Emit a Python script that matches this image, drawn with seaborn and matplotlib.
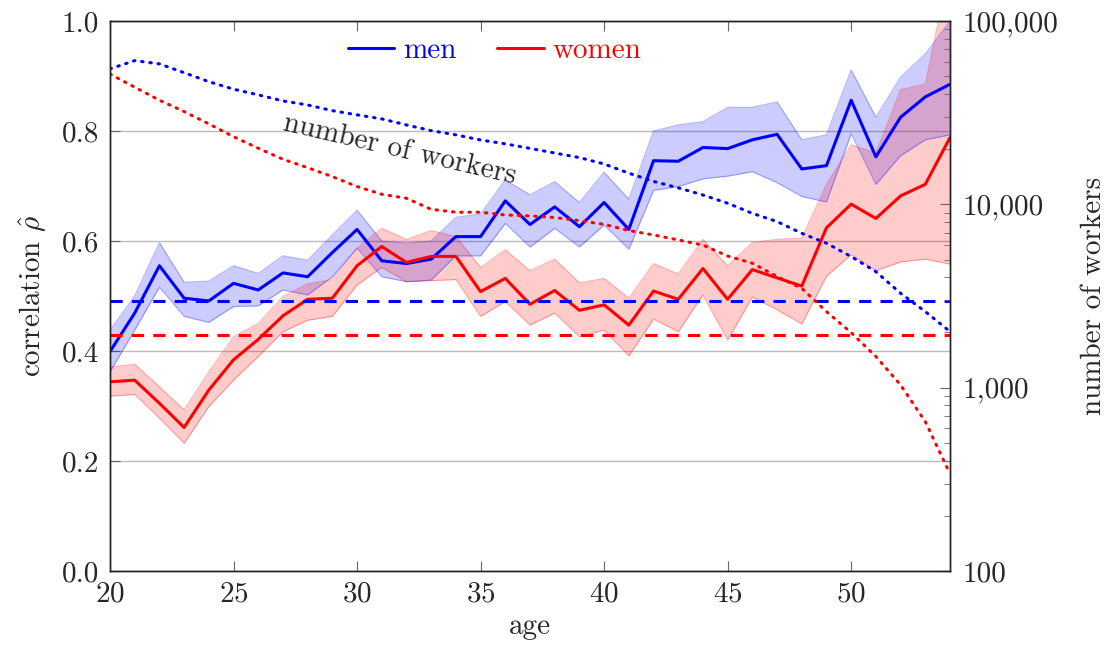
import numpy as np
import pandas as pd
import matplotlib
matplotlib.use("Agg")
import matplotlib.pyplot as plt
import matplotlib.ticker as mticker
import seaborn as sns

ages = list(range(20, 55))

men_rho = [0.399, 0.469, 0.555, 0.496, 0.491, 0.523, 0.511, 0.542, 0.535, 0.579,
           0.621, 0.564, 0.559, 0.567, 0.608, 0.608, 0.673, 0.630, 0.662, 0.626,
           0.670, 0.621, 0.746, 0.745, 0.770, 0.768, 0.784, 0.794, 0.731, 0.737,
           0.856, 0.753, 0.825, 0.862, 0.885]
men_hi = [0.438, 0.500, 0.597, 0.525, 0.527, 0.555, 0.541, 0.573, 0.565, 0.611,
          0.656, 0.600, 0.596, 0.600, 0.643, 0.649, 0.711, 0.684, 0.708, 0.670,
          0.725, 0.676, 0.800, 0.811, 0.817, 0.843, 0.843, 0.853, 0.784, 0.793,
          0.911, 0.825, 0.898, 0.940, 1.000]
men_lo = [0.362, 0.438, 0.516, 0.463, 0.452, 0.481, 0.482, 0.511, 0.502, 0.535,
          0.587, 0.535, 0.526, 0.529, 0.573, 0.573, 0.632, 0.589, 0.623, 0.589,
          0.629, 0.585, 0.692, 0.699, 0.713, 0.718, 0.726, 0.706, 0.681, 0.671,
          0.795, 0.703, 0.755, 0.784, 0.793]

women_rho = [0.344, 0.347, 0.305, 0.261, 0.329, 0.384, 0.421, 0.464, 0.494, 0.496,
             0.555, 0.590, 0.561, 0.572, 0.572, 0.508, 0.532, 0.485, 0.510, 0.474,
             0.484, 0.447, 0.509, 0.494, 0.550, 0.494, 0.548, 0.533, 0.518, 0.624,
             0.667, 0.641, 0.682, 0.703, 0.788]
women_hi = [0.371, 0.376, 0.335, 0.293, 0.362, 0.426, 0.450, 0.499, 0.522, 0.530,
            0.587, 0.623, 0.603, 0.619, 0.608, 0.552, 0.584, 0.546, 0.567, 0.524,
            0.532, 0.496, 0.559, 0.540, 0.603, 0.555, 0.597, 0.603, 0.605, 0.703,
            0.775, 0.760, 0.875, 0.885, 1.100]
women_lo = [0.318, 0.321, 0.278, 0.232, 0.299, 0.347, 0.390, 0.435, 0.456, 0.463,
            0.520, 0.552, 0.526, 0.528, 0.530, 0.463, 0.490, 0.447, 0.469, 0.426,
            0.438, 0.391, 0.458, 0.435, 0.502, 0.420, 0.498, 0.475, 0.449, 0.536,
            0.575, 0.546, 0.562, 0.567, 0.558]

men_avg = 0.491
women_avg = 0.429

# number of workers (log10 values)
men_workers_log = [4.739, 4.784, 4.766, 4.718, 4.669, 4.628, 4.597, 4.564, 4.542, 4.511,
                   4.488, 4.466, 4.433, 4.402, 4.379, 4.351, 4.330, 4.305, 4.280, 4.255,
                   4.220, 4.170, 4.125, 4.090, 4.051, 4.006, 3.951, 3.906, 3.842, 3.788,
                   3.715, 3.633, 3.515, 3.415, 3.306]
women_workers_log = [4.711, 4.639, 4.568, 4.506, 4.439, 4.369, 4.306, 4.246, 4.200, 4.151,
                     4.097, 4.055, 4.033, 3.973, 3.957, 3.957, 3.942, 3.937, 3.928, 3.911,
                     3.891, 3.857, 3.833, 3.806, 3.778, 3.718, 3.679, 3.606, 3.542, 3.415,
                     3.300, 3.170, 3.015, 2.815, 2.530]
men_workers = [10 ** v for v in men_workers_log]
women_workers = [10 ** v for v in women_workers_log]

sns.set_style("white")
plt.rcParams["font.family"] = ["cmr10", "DejaVu Serif"]
plt.rcParams["mathtext.fontset"] = "cm"
plt.rcParams["axes.formatter.use_mathtext"] = True
plt.rcParams["axes.unicode_minus"] = False

FS = 21

df = pd.DataFrame({"age": ages, "men": men_rho, "women": women_rho,
                   "men_n": men_workers, "women_n": women_workers})

fig = plt.figure(figsize=(11.17, 6.5), dpi=100)
ax = fig.add_axes([110 / 1117, 79 / 650, 840 / 1117, 550 / 650])

BLUE = "#0000ff"
RED = "#ff0000"

ax.fill_between(ages, men_lo, men_hi, color=BLUE, alpha=0.2, lw=0)
ax.plot(ages, men_lo, color=BLUE, alpha=0.3, lw=0.8)
ax.plot(ages, men_hi, color=BLUE, alpha=0.3, lw=0.8)
ax.fill_between(ages, women_lo, women_hi, color=RED, alpha=0.2, lw=0)
ax.plot(ages, women_lo, color=RED, alpha=0.3, lw=0.8)
ax.plot(ages, women_hi, color=RED, alpha=0.3, lw=0.8)

sns.lineplot(data=df, x="age", y="men", ax=ax, color=BLUE, lw=2.2, label="men")
sns.lineplot(data=df, x="age", y="women", ax=ax, color=RED, lw=2.2, label="women")
ax.axhline(men_avg, color=BLUE, lw=2.2, ls=(0, (4, 3)))
ax.axhline(women_avg, color=RED, lw=2.2, ls=(0, (4, 3)))

ax.set_xlim(20, 54)
ax.set_ylim(0, 1)
ax.set_xticks([20, 25, 30, 35, 40, 45, 50])
ax.set_yticks([0, 0.2, 0.4, 0.6, 0.8, 1.0])
ax.yaxis.set_major_formatter(mticker.FormatStrFormatter("%.1f"))
ax.grid(axis="y", color="#bbbbbb", lw=1)
ax.grid(axis="x", visible=False)
ax.tick_params(axis="both", direction="in", labelsize=FS, length=7, color="#666666",
               top=True, left=True, bottom=True)
ax.tick_params(axis="y", pad=8)
ax.tick_params(axis="x", pad=7)
ax.set_xlabel("age", fontsize=FS, labelpad=5)
ax.set_ylabel(r"correlation $\hat{\rho}$", fontsize=FS, labelpad=10)
for s in ax.spines.values():
    s.set_color("#222222")
    s.set_linewidth(1.0)

ax.text(0.345, 0.765, "number of workers", transform=ax.transAxes, fontsize=FS,
        rotation=-13, ha="center", va="center", rotation_mode="anchor")

leg = ax.legend(loc="center", bbox_to_anchor=(0.458, 0.945), ncol=2, frameon=False,
                fontsize=FS, handlelength=1.6, handletextpad=0.3, columnspacing=1.4)
for txt, col in zip(leg.get_texts(), [BLUE, RED]):
    txt.set_color(col)

ax2 = ax.twinx()
sns.lineplot(data=df, x="age", y="men_n", ax=ax2, color=BLUE, lw=2.2,
             ls=(0, (0.5, 2.2)), dash_capstyle="round")
sns.lineplot(data=df, x="age", y="women_n", ax=ax2, color=RED, lw=2.2,
             ls=(0, (0.5, 2.2)), dash_capstyle="round")
ax2.set_yscale("log")
ax2.set_ylim(100, 100000)
ax2.set_xlim(20, 54)
ax2.yaxis.set_major_locator(mticker.LogLocator(base=10, numticks=10))
ax2.yaxis.set_minor_locator(mticker.LogLocator(base=10, subs=np.arange(2, 10), numticks=10))
ax2.yaxis.set_major_formatter(mticker.FuncFormatter(lambda v, p: f"{int(round(v)):,}"))
ax2.yaxis.set_minor_formatter(mticker.NullFormatter())
ax2.tick_params(axis="y", which="major", direction="in", labelsize=FS, length=7,
                color="#666666", pad=9)
ax2.tick_params(axis="y", which="minor", direction="in", length=4, color="#666666")
ax2.set_ylabel("number of workers", fontsize=FS, labelpad=16)
ax2.set_xlabel("")
for s in ax2.spines.values():
    s.set_color("#222222")
    s.set_linewidth(1.0)

fig.savefig("out.png", dpi=100)
